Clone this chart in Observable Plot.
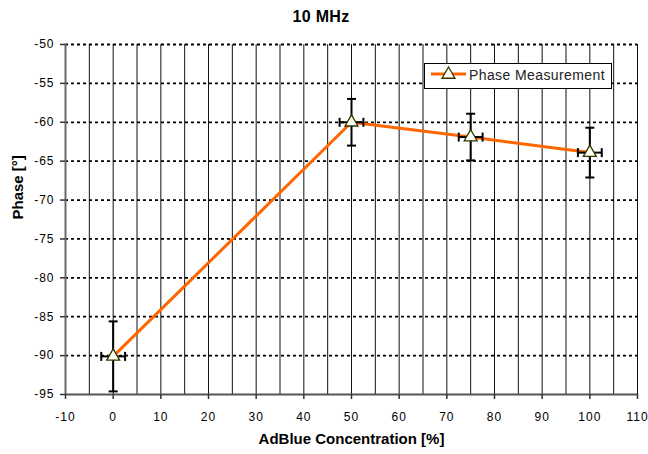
<!DOCTYPE html>
<html><head><meta charset="utf-8">
<script src="https://cdn.jsdelivr.net/npm/d3@7"></script>
<script src="https://cdn.jsdelivr.net/npm/@observablehq/plot@0.6"></script>
<style>
body{margin:0;background:#fff;font-family:"Liberation Sans",Arial,sans-serif;}
#wrap{position:relative;width:648px;height:454px;overflow:hidden;}
#title{height:30px;position:relative;}
#title span{position:absolute;left:0;width:642px;text-align:center;top:8px;font:bold 16px "Liberation Sans",Arial,sans-serif;color:#000;letter-spacing:0.3px;}
#legend{position:absolute;left:424px;top:63px;width:188px;height:26px;border:1px solid #000;background:#fff;box-sizing:border-box;}
#legend svg{position:absolute;left:0;top:0;}
[aria-label$="tick label"] text{letter-spacing:1px;}
</style></head>
<body><div id="wrap"><div id="title"><span>10 MHz</span></div><div id="chart"></div><div id="legend"></div></div>
<script>
// ---- data ----
const concentration = [0, 50, 75, 100];        // AdBlue concentration [%]
const phase = [-90.1, -60.0, -61.9, -63.9];     // phase [°]
const phaseErr = [4.5, 3.0, 3.0, 3.2];          // vertical error (±)
const concErr = [2.5, 2.5, 2.5, 2.5];           // horizontal error (±)
const xTicks = [-10, 0, 10, 20, 30, 40, 50, 60, 70, 80, 90, 100, 110];
const yTicks = [-95, -90, -85, -80, -75, -70, -65, -60, -55, -50];
const xGridLines = [-5, 0, 5, 10, 15, 20, 25, 30, 35, 40, 45, 50, 55, 60, 65, 70, 75, 80, 85, 90, 95, 100, 105, 110];
const yGridLines = [-90, -85, -80, -75, -70, -65, -60, -55, -50];
const seriesName = "Phase Measurement";
const titleText = "10 MHz";
const xLabel = "AdBlue Concentration [%]";
const yLabel = "Phase [°]";

const data = concentration.map((c, i) => ({c, p: phase[i], pe: phaseErr[i], ce: concErr[i]}));

const hbar = {draw(ctx, size){const r = Math.sqrt(size / Math.PI); ctx.moveTo(-r, 0); ctx.lineTo(r, 0);}};
const vbar = {draw(ctx, size){const r = Math.sqrt(size / Math.PI); ctx.moveTo(0, -r); ctx.lineTo(0, r);}};

const ORANGE = "#FF6600";
const MARK_STROKE = "#333300";
const MARK_FILL = "#FFFFF4";
const fmt = d => String(d); // plain hyphen-minus like the reference

const chart = Plot.plot({
  width: 648,
  height: 424,
  marginLeft: 65,
  marginRight: 11,
  marginTop: 14,
  marginBottom: 60,
  style: {fontFamily: "'Liberation Sans', Arial, sans-serif", fontSize: "12px", color: "#000", background: "white", overflow: "visible"},
  x: {domain: [-10, 110]},
  y: {domain: [-95, -50]},
  marks: [
    Plot.ruleX(xGridLines, {stroke: "#111", strokeWidth: 1}),
    Plot.ruleY(yGridLines, {stroke: "#000", strokeWidth: 1.8, strokeDasharray: "3,3"}),
    Plot.ruleX([-10], {stroke: "#6a6a6a", strokeWidth: 2}),
    Plot.ruleY([-95], {stroke: "#555", strokeWidth: 2}),
    Plot.axisX({ticks: xTicks, tickFormat: fmt, tickSize: 5, tickPadding: 13, label: null, stroke: "#333", strokeWidth: 1.5}),
    Plot.axisY({ticks: yTicks, tickFormat: fmt, tickSize: 5, tickPadding: 6, label: null, stroke: "#333", strokeWidth: 1.5}),
    Plot.text([xLabel], {text: d => d, frameAnchor: "bottom", dy: 49, fontWeight: "bold", fontSize: 15}),
    Plot.text([yLabel], {text: d => d, frameAnchor: "left", dx: -47, rotate: -90, fontWeight: "bold", fontSize: 15}),
    Plot.line(data, {x: "c", y: "p", stroke: ORANGE, strokeWidth: 3}),
    Plot.ruleX(data, {x: "c", y1: d => d.p - d.pe, y2: d => d.p + d.pe, stroke: "#000", strokeWidth: 2}),
    Plot.ruleY(data, {y: "p", x1: d => d.c - d.ce, x2: d => d.c + d.ce, stroke: "#000", strokeWidth: 2}),
    Plot.dot(data, {x: "c", y: d => d.p + d.pe, symbol: hbar, r: 4.5, fill: "none", stroke: "#000", strokeWidth: 2}),
    Plot.dot(data, {x: "c", y: d => d.p - d.pe, symbol: hbar, r: 4.5, fill: "none", stroke: "#000", strokeWidth: 2}),
    Plot.dot(data, {x: d => d.c - d.ce, y: "p", symbol: vbar, r: 4.5, fill: "none", stroke: "#000", strokeWidth: 2}),
    Plot.dot(data, {x: d => d.c + d.ce, y: "p", symbol: vbar, r: 4.5, fill: "none", stroke: "#000", strokeWidth: 2}),
    Plot.dot(data, {x: "c", y: "p", symbol: "triangle", r: 4.8, fill: MARK_FILL, stroke: MARK_STROKE, strokeWidth: 1.3})
  ]
});
document.getElementById("chart").appendChild(chart);
document.querySelector("#title span").textContent = titleText;

// legend (line + triangle symbol + name)
const ns = "http://www.w3.org/2000/svg";
const lg = document.createElementNS(ns, "svg");
lg.setAttribute("width", 186); lg.setAttribute("height", 24);
const ln = document.createElementNS(ns, "line");
ln.setAttribute("x1", 6); ln.setAttribute("x2", 41); ln.setAttribute("y1", 10); ln.setAttribute("y2", 10);
ln.setAttribute("stroke", ORANGE); ln.setAttribute("stroke-width", 3);
lg.appendChild(ln);
const tri = document.createElementNS(ns, "path");
tri.setAttribute("d", d3.symbol(d3.symbolTriangle, Math.PI * 4.8 * 4.8)());
tri.setAttribute("transform", "translate(23.5,10.5)");
tri.setAttribute("fill", MARK_FILL); tri.setAttribute("stroke", MARK_STROKE); tri.setAttribute("stroke-width", 1.3);
lg.appendChild(tri);
const tx = document.createElementNS(ns, "text");
tx.setAttribute("x", 44); tx.setAttribute("y", 16);
tx.setAttribute("font-family", "'Liberation Sans', Arial, sans-serif");
tx.setAttribute("font-size", 14); tx.setAttribute("fill", "#222");
tx.setAttribute("letter-spacing", "0.4");
tx.textContent = seriesName;
lg.appendChild(tx);
document.getElementById("legend").appendChild(lg);
</script>
</body></html>
